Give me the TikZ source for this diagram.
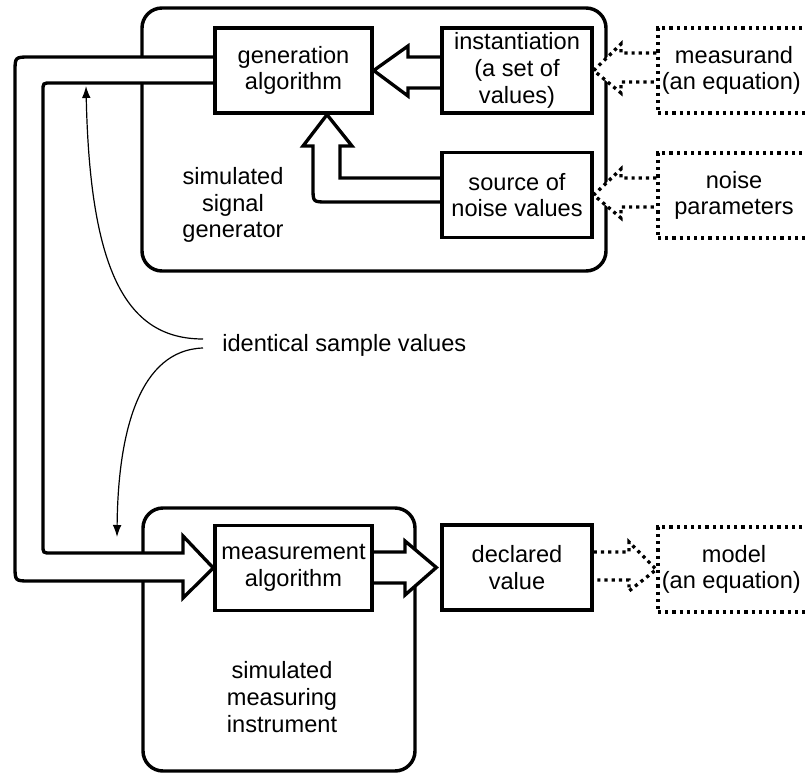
\documentclass[tikz,border=0pt]{standalone}
\usepackage{fontspec}
\setmainfont{Liberation Sans}
\usetikzlibrary{arrows.meta}
\pgfdeclarelayer{back}
\pgfsetlayers{back,main}

\begin{document}
\begin{tikzpicture}[x=0.75pt, y=-0.75pt,
  every node/.style={font=\fontsize{17.7pt}{20pt}\selectfont, align=center},
  container/.style={draw, line width=2.6pt, rounded corners=15pt},
  block/.style={draw, line width=2.5pt, fill=white, inner sep=0pt,
    minimum height=63.75pt},
  dotbox/.style={draw, line width=2.5pt, dash pattern=on 2.4pt off 3pt,
    inner sep=0pt, minimum height=63.75pt, minimum width=114pt},
  hollow/.style={draw, line width=2.5pt, fill=white, line join=miter},
  dothollow/.style={draw, line width=2.5pt, dash pattern=on 2.4pt off 3pt,
    fill=white, line join=miter},
  thinarrow/.style={line width=0.9pt, -{Latex[length=9pt,width=6.5pt]}}
]
\useasboundingbox (0,0) rectangle (805,773);

% functional blocks
\node[block, minimum width=117.75pt] (gen) at (293.5,70.5) {generation\\algorithm};
\node[block, minimum width=112.5pt] (inst) at (517,70.5) {instantiation\\(a set of\\values)};
\node[block, minimum width=112.5pt] (src) at (517,195) {source of\\noise values};
\node[block, minimum width=117.75pt] (meas) at (293.5,568) {measurement\\algorithm};
\node[block, minimum width=112.5pt] (decl) at (517,567.5) {declared\\value};

% external descriptions
\node[dotbox] (measurand) at (734,70.5) {measurand\\\hspace*{-4pt}(an equation)};
\node[dotbox] (noise) at (734,195.5) {noise\\parameters};
\node[dotbox] (model) at (734,569.5) {model\\\hspace*{-4pt}(an equation)};

% unit captions
\node (sgl) at (233,205) {simulated\\signal\\generator};
\node (sml) at (282,697) {simulated\\measuring\\instrument};

\begin{pgfonlayer}{back}
% page
\fill[white] (0,0) rectangle (805,773);

% enclosing units
\draw[container] (142,8) rectangle (606,271);
\draw[container] (143,508) rectangle (415,771);

% broad arrow: instantiation -> generation algorithm
\draw[hollow] (inst.west |- 0,57) -- (408,57) -- (408,46) -- (gen.east)
  -- (408,96) -- (408,88) -- (inst.west |- 0,88);

% broad arrow: source of noise values -> generation algorithm
\draw[hollow] (src.west |- 0,178) -- (340,178) -- (340,146) -- (352,146)
  -- (gen.south -| 327,0) -- (303,146) -- (313,146) -- (313,188)
  .. controls (313,202) .. (327,202) -- (src.west |- 0,202);

% broad loop: generation algorithm -> measurement algorithm
\draw[hollow] (gen.west |- 0,57) -- (30,57) .. controls (15,57) .. (15,72)
  -- (15,566) .. controls (15,581) .. (30,581) -- (183,581) -- (183,598)
  -- (meas.west) -- (183,536) -- (183,553) -- (51,553)
  .. controls (43,553) .. (43,545) -- (43,91) .. controls (43,83) .. (51,83)
  -- (gen.west |- 0,83);

% broad arrow: measurement algorithm -> declared value
\draw[hollow] (meas.east |- 0,552) -- (405,552) -- (405,541)
  -- ([xshift=-3pt]decl.west) -- (405,595) -- (405,583) -- (meas.east |- 0,583);

% dotted arrows
\draw[dothollow] (measurand.west |- 0,53) -- (621,53) -- (621,44) -- (inst.east)
  -- (621,93) -- (621,82) -- (measurand.west |- 0,82);
\draw[dothollow] (noise.west |- 0,178) -- (621,178) -- (621,169) -- (src.east)
  -- (621,218) -- (621,207) -- (noise.west |- 0,207);
\draw[dothollow] (decl.east |- 0,552) -- (629,552) -- (629,542) -- (model.west)
  -- (629,591) -- (629,580) -- (decl.east |- 0,580);
\end{pgfonlayer}

% identical sample values
\node[anchor=west, inner sep=0pt] (isv) at (222,345) {identical sample values};
\coordinate (c1) at (203,339);
\coordinate (c2) at (203,348);
\coordinate (t1) at (86,86);
\coordinate (t2) at (117,537);
\draw[thinarrow] (c1) .. controls (128,339) and (90,275) .. (t1);
\draw[thinarrow] (c2) .. controls (140,350) and (118,430) .. (t2);
\end{tikzpicture}
\end{document}
